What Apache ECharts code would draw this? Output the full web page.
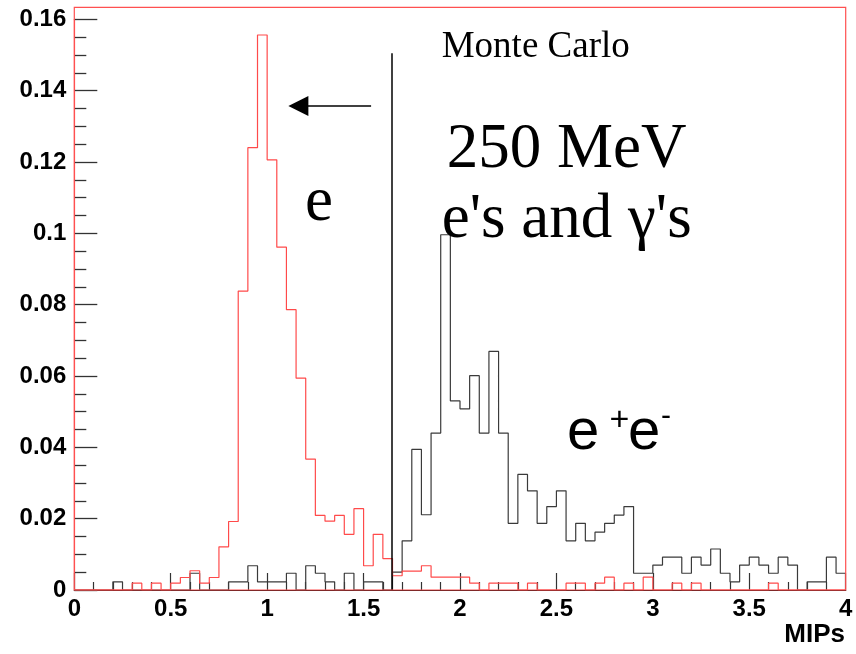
<!DOCTYPE html>
<html>
<head>
<meta charset="utf-8">
<script src="https://cdn.jsdelivr.net/npm/echarts@6/dist/echarts.min.js"></script>
<style>
  html, body { margin: 0; padding: 0; background: #fff; }
  #chart { width: 856px; height: 654px; }
</style>
</head>
<body>
<div id="chart"></div>
<script>
// Histogram binning: 80 bins of 0.05 MIPs from 0 to 4
const BIN_START = 0;
const BIN_WIDTH = 0.05;
const X_MAX = 4;

// Single electrons (red), fraction per bin
const electronCounts = [
  0, 0, 0, 0, 0, 0, 0.0019, 0, 0.0019, 0,
  0.0019, 0.0035, 0.0054, 0.0019, 0.0035, 0.0121, 0.0192, 0.0838, 0.124, 0.1556,
  0.1206, 0.0961, 0.0786, 0.0594, 0.0367, 0.0209, 0.0193, 0.0209, 0.0156, 0.0228,
  0.0068, 0.0156, 0.0088, 0.004, 0.0053, 0.0053, 0.0068, 0.0036, 0.0036, 0.0036,
  0.0036, 0.0019, 0, 0.0019, 0.0019, 0.0019, 0, 0.0019, 0, 0,
  0, 0.0019, 0.0019, 0, 0.0019, 0.0036, 0, 0.0019, 0, 0.0036,
  0, 0, 0.0019, 0, 0.0019, 0, 0, 0, 0, 0,
  0, 0, 0.0019, 0, 0, 0, 0, 0, 0, 0
];

// Converted photons, e+e- pairs (black), fraction per bin
const pairCounts = [
  0, 0, 0, 0, 0.0023, 0, 0, 0, 0, 0,
  0, 0, 0.0047, 0, 0, 0, 0.0023, 0.0023, 0.0068, 0.0023,
  0.0023, 0.0023, 0.0047, 0, 0.0068, 0.0047, 0.0023, 0, 0.0047, 0,
  0.0023, 0.0023, 0, 0.005, 0.0138, 0.0394, 0.0211, 0.044, 0.0996, 0.053,
  0.0508, 0.0601, 0.044, 0.0669, 0.044, 0.0187, 0.0324, 0.0278, 0.0187, 0.0234,
  0.0278, 0.0138, 0.0187, 0.0138, 0.0162, 0.0187, 0.021, 0.0234, 0.0047, 0.0047,
  0.007, 0.0092, 0.0092, 0.0047, 0.0092, 0.007, 0.0115, 0.0047, 0.0023, 0.007,
  0.0092, 0.007, 0.0047, 0.0092, 0.007, 0, 0.0023, 0.0023, 0.0092, 0.0047
];

// Axis ticks
const xTicks = [0, 0.5, 1, 1.5, 2, 2.5, 3, 3.5, 4];
const yTicks = [0, 0.02, 0.04, 0.06, 0.08, 0.1, 0.12, 0.14, 0.16];

// Selection cut and arrow pointing to the accepted region
const CUT_X = 1.646;
const CUT_TOP = 0.1505;
const ARROW_FROM = [1.539, 0.1357];
const ARROW_HEAD = [1.162, 0.1357];   // centre of the arrowhead

// Bin contents as step outline points (left edge of each bin, closed at the right end)
function stepPoints(vals) {
  const pts = vals.map((v, i) => [BIN_START + i * BIN_WIDTH, v]);
  pts.push([X_MAX, vals[vals.length - 1]]);
  return pts;
}

const GRID = { left: 74.3, right: 10.3, top: 19.3, bottom: 64 };
const FRAME_TOP = 7.3;

const chart = echarts.init(document.getElementById('chart'), null, { renderer: 'canvas' });

const labelFont = {
  color: '#000',
  fontFamily: 'Liberation Sans, Arial, sans-serif',
  fontWeight: 'bold',
  fontSize: 24
};

chart.setOption({
  animation: false,
  backgroundColor: '#fff',
  grid: GRID,
  xAxis: {
    type: 'value',
    min: xTicks[0],
    max: xTicks[xTicks.length - 1],
    interval: xTicks[1] - xTicks[0],
    axisLine: { show: true, onZero: false, lineStyle: { color: '#000', width: 1.2 } },
    axisTick: { show: true, inside: true, length: 17, lineStyle: { color: '#333', width: 1.2 } },
    minorTick: { show: true, splitNumber: 5, length: 8, lineStyle: { color: '#333', width: 1.2 } },
    splitLine: { show: false },
    axisLabel: Object.assign({ margin: 7 }, labelFont)
  },
  yAxis: {
    type: 'value',
    min: yTicks[0],
    max: yTicks[yTicks.length - 1],
    interval: yTicks[1] - yTicks[0],
    axisLine: { show: true, lineStyle: { color: '#ff5050', width: 1.2 } },
    axisTick: { show: true, inside: true, length: 23, lineStyle: { color: '#333', width: 1.3 } },
    minorTick: { show: true, splitNumber: 4, length: 12, lineStyle: { color: '#333', width: 1.3 } },
    splitLine: { show: false },
    axisLabel: Object.assign({ margin: 8 }, labelFont)
  },
  series: [
    {
      name: 'e+e-',
      type: 'line',
      step: 'end',
      data: stepPoints(pairCounts),
      showSymbol: false,
      lineStyle: { color: '#3a3a3a', width: 1.2 },
      z: 2,
      markLine: {
        silent: true,
        animation: false,
        label: { show: false },
        data: [
          [
            { coord: [CUT_X, 0], symbol: 'none', lineStyle: { color: '#000', width: 1.5, type: 'solid' } },
            { coord: [CUT_X, CUT_TOP], symbol: 'none' }
          ],
          [
            { coord: ARROW_FROM, symbol: 'none', lineStyle: { color: '#000', width: 1.5, type: 'solid' } },
            { coord: ARROW_HEAD, symbol: 'triangle', symbolSize: 20, itemStyle: { color: '#000' } }
          ]
        ]
      }
    },
    {
      name: 'e',
      type: 'line',
      step: 'end',
      data: stepPoints(electronCounts),
      showSymbol: false,
      lineStyle: { color: '#ff4a4a', width: 1.2 },
      z: 3
    }
  ],
  graphic: [
    // plot frame
    {
      type: 'rect',
      silent: true,
      z: 10,
      shape: { x: GRID.left, y: FRAME_TOP, width: 856 - GRID.left - GRID.right, height: 654 - GRID.bottom - FRAME_TOP },
      style: { fill: 'none', stroke: '#ff5050', lineWidth: 1.2 }
    },
    {
      type: 'text', x: 845, y: 635, z: 10,
      style: { text: 'MIPs', align: 'right', verticalAlign: 'middle', fill: '#000',
               font: 'bold 26px "Liberation Sans", Arial, sans-serif' }
    },
    {
      type: 'text', x: 441.7, y: 47.2, z: 10,
      style: { text: 'Monte Carlo', align: 'left', verticalAlign: 'middle', fill: '#000',
               font: '37px "Liberation Serif", "Times New Roman", serif' }
    },
    {
      type: 'text', x: 566.7, y: 150.4, z: 10,
      style: { text: '250 MeV', align: 'center', verticalAlign: 'middle', fill: '#000',
               font: '63px "Liberation Serif", "Times New Roman", serif' }
    },
    {
      type: 'text', x: 566.7, y: 220.4, z: 10,
      style: { text: "e's and γ's", align: 'center', verticalAlign: 'middle', fill: '#000',
               font: '63px "Liberation Serif", "Times New Roman", serif' }
    },
    {
      type: 'text', x: 305, y: 203.7, z: 10,
      style: { text: 'e', align: 'left', verticalAlign: 'middle', fill: '#000',
               font: '63px "Liberation Serif", "Times New Roman", serif' }
    },
    {
      type: 'text', x: 567, y: 433.2, z: 10,
      style: { text: 'e', align: 'left', verticalAlign: 'middle', fill: '#000',
               font: '58px "Liberation Sans", Arial, sans-serif' }
    },
    {
      type: 'text', x: 619.5, y: 421, z: 10,
      style: { text: '+', align: 'center', verticalAlign: 'middle', fill: '#000',
               font: '34px "Liberation Sans", Arial, sans-serif' }
    },
    {
      type: 'text', x: 628, y: 433.2, z: 10,
      style: { text: 'e', align: 'left', verticalAlign: 'middle', fill: '#000',
               font: '58px "Liberation Sans", Arial, sans-serif' }
    },
    {
      type: 'text', x: 666, y: 417, z: 10,
      style: { text: '-', align: 'center', verticalAlign: 'middle', fill: '#000',
               font: '30px "Liberation Sans", Arial, sans-serif' }
    }
  ]
});
</script>
</body>
</html>
